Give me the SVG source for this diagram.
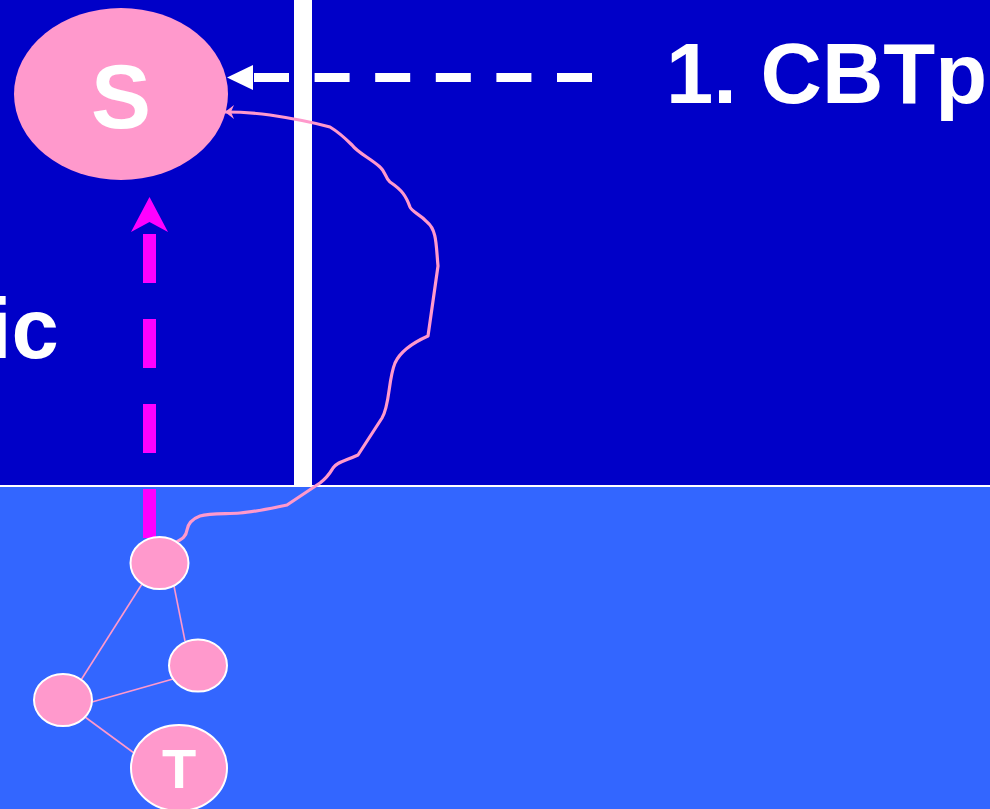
<svg xmlns="http://www.w3.org/2000/svg" width="990" height="809" viewBox="0 0 990 809">
  <style>
    .label { font-family: "Liberation Sans", Arial, sans-serif; font-weight: bold; fill: #FFFFFF; }
    .node { fill: #FF99CC; stroke: #FFFFFF; stroke-width: 2; }
    .edge { stroke: #FF99CC; stroke-width: 1.6; fill: none; }
  </style>
  <defs>
    <marker id="pinkHead" markerUnits="userSpaceOnUse" markerWidth="12" markerHeight="16" viewBox="0 0 12 16" refX="10" refY="8" orient="auto">
      <path d="M10,8 L1,1 L4,8 L1,15 Z" fill="#FF99CC"/>
    </marker>
  </defs>

  <!-- backgrounds -->
  <rect x="0" y="0" width="990" height="486" fill="#0000C8"/>
  <rect x="0" y="487" width="990" height="322" fill="#3366FF"/>
  <rect x="0" y="485" width="990" height="2" fill="#FFFFFF"/>
  <rect x="294" y="0" width="18" height="486" fill="#FFFFFF"/>

  <!-- captions -->
  <text class="label" x="666" y="103" font-size="85">1. CBTp</text>
  <text class="label" x="-12" y="358" font-size="85">ic</text>

  <g id="connectors">
    <!-- white dashed arrow into S -->
    <path d="M592,77.5 L253,77.5" stroke="#FFFFFF" stroke-width="9" stroke-dasharray="35 25.6" fill="none"/>
    <polygon points="227,77.5 253,65 253,90" fill="#FFFFFF"/>

    <!-- magenta dashed arrow up toward S -->
    <path d="M149.5,538 L149.5,232" stroke="#FF00FF" stroke-width="13" stroke-dasharray="49 36" fill="none"/>
    <polygon points="149.5,197 168,232 149.5,222 131,232" fill="#FF00FF"/>

    <!-- edges among the lower nodes -->
    <line class="edge" x1="142" y1="584" x2="81" y2="680"/>
    <line class="edge" x1="174" y1="586" x2="185" y2="641"/>
    <line class="edge" x1="92" y1="702" x2="173" y2="679"/>
    <line class="edge" x1="85" y1="717" x2="134" y2="753"/>

    <!-- wavy path from lower node back to S -->
    <path d="M175,543 C182,539 186,537 187,530 C188,524 192,519 200,516 C210,513 225,514 240,513 C255,512 272,508 287,505 L320,483 C328,477 330,473 333,468 C337,462 345,461 358,455 L382,418 C390,405 388,380 395,363 C400,352 410,344 428,336 L438,266 C436,245 437,230 427,222 C420,214 412,212 410,207 C406,196 402,190 390,182 C385,178 386,172 380,167 C370,158 358,153 352,145 C345,138 340,133 330,127 C312,122 290,118 270,115 C255,113 242,112 225,112" stroke="#FF99CC" stroke-width="3.2" fill="none" stroke-linejoin="round" marker-end="url(#pinkHead)"/>
  </g>

  <g id="node-S">
    <ellipse cx="121" cy="94" rx="107" ry="86" fill="#FF99CC"/>
    <text class="label" x="121" y="128" font-size="90" text-anchor="middle">S</text>
  </g>

  <g id="node-a">
    <ellipse class="node" cx="159.5" cy="563" rx="29" ry="26"/>
  </g>
  <g id="node-b">
    <ellipse class="node" cx="198" cy="665.5" rx="29" ry="26"/>
  </g>
  <g id="node-c">
    <ellipse class="node" cx="63" cy="700" rx="29" ry="26"/>
  </g>
  <g id="node-T">
    <ellipse class="node" cx="179" cy="768" rx="48" ry="43"/>
    <text class="label" x="179" y="788" font-size="56" text-anchor="middle">T</text>
  </g>
</svg>
